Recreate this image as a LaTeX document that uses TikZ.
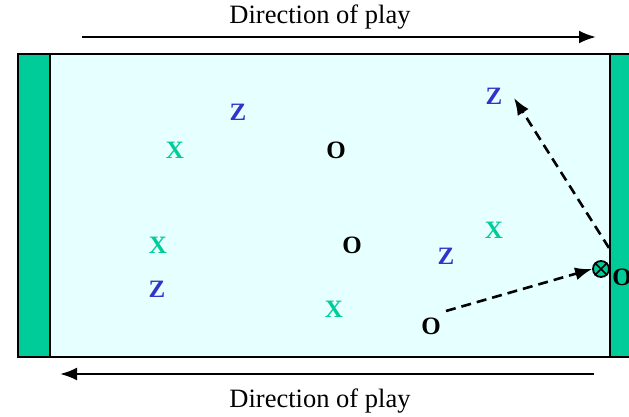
\documentclass[tikz,border=0pt]{standalone}
\usepackage{fontspec}
\setmainfont{Liberation Serif}
\usetikzlibrary{arrows.meta}
\definecolor{fieldgreen}{HTML}{00CC99}
\definecolor{fieldbg}{HTML}{E6FFFF}
\definecolor{zblue}{HTML}{3333CC}
\tikzset{
  player/.style={font=\fontsize{25}{29}\selectfont\bfseries, inner sep=0pt},
  xp/.style={player, text=fieldgreen},
  zp/.style={player, text=zblue},
  op/.style={player, text=black},
  caption/.style={font=\fontsize{26.5}{31}\selectfont, inner sep=0pt},
  dirarrow/.style={line width=2.4pt, -{Latex[length=17pt,width=13pt]}},
  runarrow/.style={line width=2.6pt, dash pattern=on 10pt off 6pt, -{Latex[length=17pt,width=13pt]}},
}
\begin{document}
\begin{tikzpicture}[x=1pt,y=-1pt]
\useasboundingbox (0,0) rectangle (629,416);
% field
\draw[line width=2.5pt, fill=fieldbg] (18,54) rectangle (650,357);
\draw[line width=2.5pt, fill=fieldgreen] (18,54) rectangle (50,357);
\draw[line width=2.5pt, fill=fieldgreen] (610,54) rectangle (650,357);
% captions
\node[caption] (ttop) at (320,17) {Direction of play};
\node[caption] (tbot) at (320,401) {Direction of play};
\coordinate (a1s) at (82,37);
\coordinate (a1e) at (596,37);
\coordinate (a2s) at (594,374);
\coordinate (a2e) at (60,374);
\draw[dirarrow] (a1s) -- (a1e);
\draw[dirarrow] (a2s) -- (a2e);
% players
\node[zp] (z1) at (238,112) {Z};
\node[xp] (x1) at (175,150) {X};
\node[op] (o1) at (336,150) {O};
\node[xp] (x2) at (158,245) {X};
\node[op] (o2) at (352,245) {O};
\node[zp] (z2) at (157,289) {Z};
\node[xp] (x3) at (334,309) {X};
\node[zp] (z3) at (446,256) {Z};
\node[xp] (x4) at (494,230) {X};
\node[zp] (z4) at (494,96) {Z};
\node[op] (o3) at (431,326) {O};
\node[op] (o4) at (622,277) {O};
% ball
\node[circle, draw, line width=1.8pt, fill=fieldgreen, minimum size=16pt, inner sep=0pt] (ball) at (601,269) {};
\draw[line width=1.6pt] (ball.north west) -- (ball.south east);
\draw[line width=1.6pt] (ball.north east) -- (ball.south west);
% runs
\coordinate (r1s) at (446,311);
\coordinate (r2s) at (609,248);
\coordinate (r2e) at (514,98);
\draw[runarrow] (r1s) -- (ball.west);
\draw[runarrow] (r2s) -- (r2e);
\end{tikzpicture}
\end{document}
